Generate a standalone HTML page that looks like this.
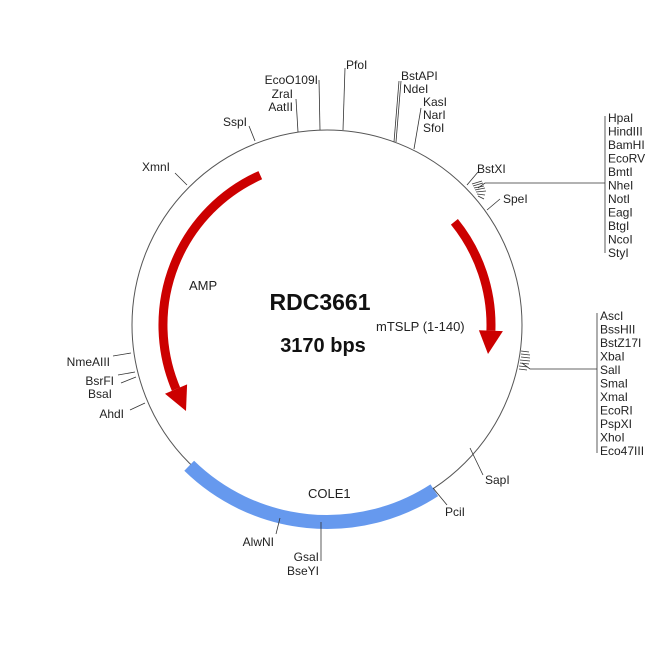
<!DOCTYPE html>
<html><head><meta charset="utf-8"><style>
body{margin:0;background:#fff}
svg{display:block}
text{font-family:"Liberation Sans",Arial,sans-serif;font-size:12px;fill:#222}
</style></head><body>
<svg width="650" height="650" viewBox="0 0 650 650" xmlns="http://www.w3.org/2000/svg">
<circle cx="327" cy="325" r="195" fill="none" stroke="#555" stroke-width="1"/>
<path d="M434.3 490.2 A197 197 0 0 1 189.2 465.8" fill="none" stroke="#6699ee" stroke-width="14"/>
<path d="M260.3 175.2 A164 164 0 0 0 176 389.1" fill="none" stroke="#cc0000" stroke-width="9"/>
<polygon points="187.1,384.4 165,393.8 186,411" fill="#cc0000"/>
<path d="M454.4 221.8 A164 164 0 0 1 490.9 330.7" fill="none" stroke="#cc0000" stroke-width="9"/>
<polygon points="478.9,330.3 502.9,331.1 488,354" fill="#cc0000"/>
<g stroke="#333" stroke-width="0.8" fill="none">
<line x1="255" y1="141" x2="249" y2="126"/>
<line x1="298" y1="132" x2="296" y2="99"/>
<line x1="320" y1="130" x2="319" y2="80"/>
<line x1="343" y1="130" x2="345" y2="68"/>
<line x1="394" y1="142" x2="399" y2="81"/>
<line x1="396" y1="142" x2="401" y2="81"/>
<line x1="414" y1="149" x2="421" y2="108"/>
<line x1="467" y1="185" x2="478" y2="172"/>
<line x1="487" y1="210" x2="500" y2="199"/>
<line x1="470" y1="448" x2="483" y2="475"/>
<line x1="433" y1="488" x2="447" y2="505"/>
<line x1="321" y1="522" x2="321" y2="561"/>
<line x1="280" y1="518" x2="276" y2="534"/>
<line x1="145" y1="403" x2="130" y2="410"/>
<line x1="136" y1="377" x2="121" y2="383"/>
<line x1="135" y1="372" x2="118" y2="375"/>
<line x1="131" y1="353" x2="113" y2="356"/>
<line x1="187" y1="185" x2="175" y2="173"/>
<polyline points="478,188 485,183 605,183"/>
<line x1="605" y1="116" x2="605" y2="253"/>
<line x1="472" y1="184" x2="482" y2="181"/>
<line x1="473" y1="186" x2="483" y2="183"/>
<line x1="474" y1="188" x2="484" y2="186"/>
<line x1="475" y1="190" x2="485" y2="188"/>
<line x1="476" y1="192" x2="486" y2="191"/>
<line x1="477" y1="194" x2="485" y2="195"/>
<line x1="478" y1="196" x2="484" y2="199"/>
<polyline points="522,363 530,369 597,369"/>
<line x1="597" y1="313" x2="597" y2="453"/>
<line x1="521" y1="351" x2="529" y2="352"/>
<line x1="521" y1="354" x2="530" y2="355"/>
<line x1="521" y1="357" x2="530" y2="358"/>
<line x1="520" y1="360" x2="530" y2="361"/>
<line x1="520" y1="363" x2="529" y2="364"/>
<line x1="519" y1="366" x2="528" y2="367"/>
<line x1="519" y1="369" x2="527" y2="370"/>
</g>
<text x="247" y="126" text-anchor="end">SspI</text>
<text x="318" y="84" text-anchor="end">EcoO109I</text>
<text x="293" y="98" text-anchor="end">ZraI</text>
<text x="293" y="111" text-anchor="end">AatII</text>
<text x="346" y="69">PfoI</text>
<text x="401" y="80">BstAPI</text>
<text x="403" y="93">NdeI</text>
<text x="423" y="106">KasI</text>
<text x="423" y="119">NarI</text>
<text x="423" y="132">SfoI</text>
<text x="477" y="173">BstXI</text>
<text x="503" y="203">SpeI</text>
<g>
<text x="608" y="122">HpaI</text><text x="608" y="135.5">HindIII</text><text x="608" y="149">BamHI</text><text x="608" y="162.5">EcoRV</text><text x="608" y="176">BmtI</text><text x="608" y="189.5">NheI</text><text x="608" y="203">NotI</text><text x="608" y="216.5">EagI</text><text x="608" y="230">BtgI</text><text x="608" y="243.5">NcoI</text><text x="608" y="257">StyI</text>
</g>
<g>
<text x="600" y="320">AscI</text><text x="600" y="333.5">BssHII</text><text x="600" y="347">BstZ17I</text><text x="600" y="360.5">XbaI</text><text x="600" y="374">SalI</text><text x="600" y="387.5">SmaI</text><text x="600" y="401">XmaI</text><text x="600" y="414.5">EcoRI</text><text x="600" y="428">PspXI</text><text x="600" y="441.5">XhoI</text><text x="600" y="455">Eco47III</text>
</g>
<text x="485" y="484">SapI</text>
<text x="445" y="516">PciI</text>
<text x="319" y="561" text-anchor="end">GsaI</text>
<text x="319" y="575" text-anchor="end">BseYI</text>
<text x="274" y="546" text-anchor="end">AlwNI</text>
<text x="124" y="418" text-anchor="end">AhdI</text>
<text x="114" y="385" text-anchor="end">BsrFI</text>
<text x="112" y="398" text-anchor="end">BsaI</text>
<text x="110" y="366" text-anchor="end">NmeAIII</text>
<text x="142" y="171">XmnI</text>
<text x="189" y="290" style="font-size:13px">AMP</text>
<text x="376" y="331" style="font-size:13px">mTSLP (1-140)</text>
<text x="308" y="498" style="font-size:13px">COLE1</text>
<text x="320" y="310" text-anchor="middle" style="font-size:23px;font-weight:bold;fill:#111">RDC3661</text>
<text x="323" y="352" text-anchor="middle" style="font-size:20px;font-weight:bold;fill:#111">3170 bps</text>
</svg>
</body></html>
